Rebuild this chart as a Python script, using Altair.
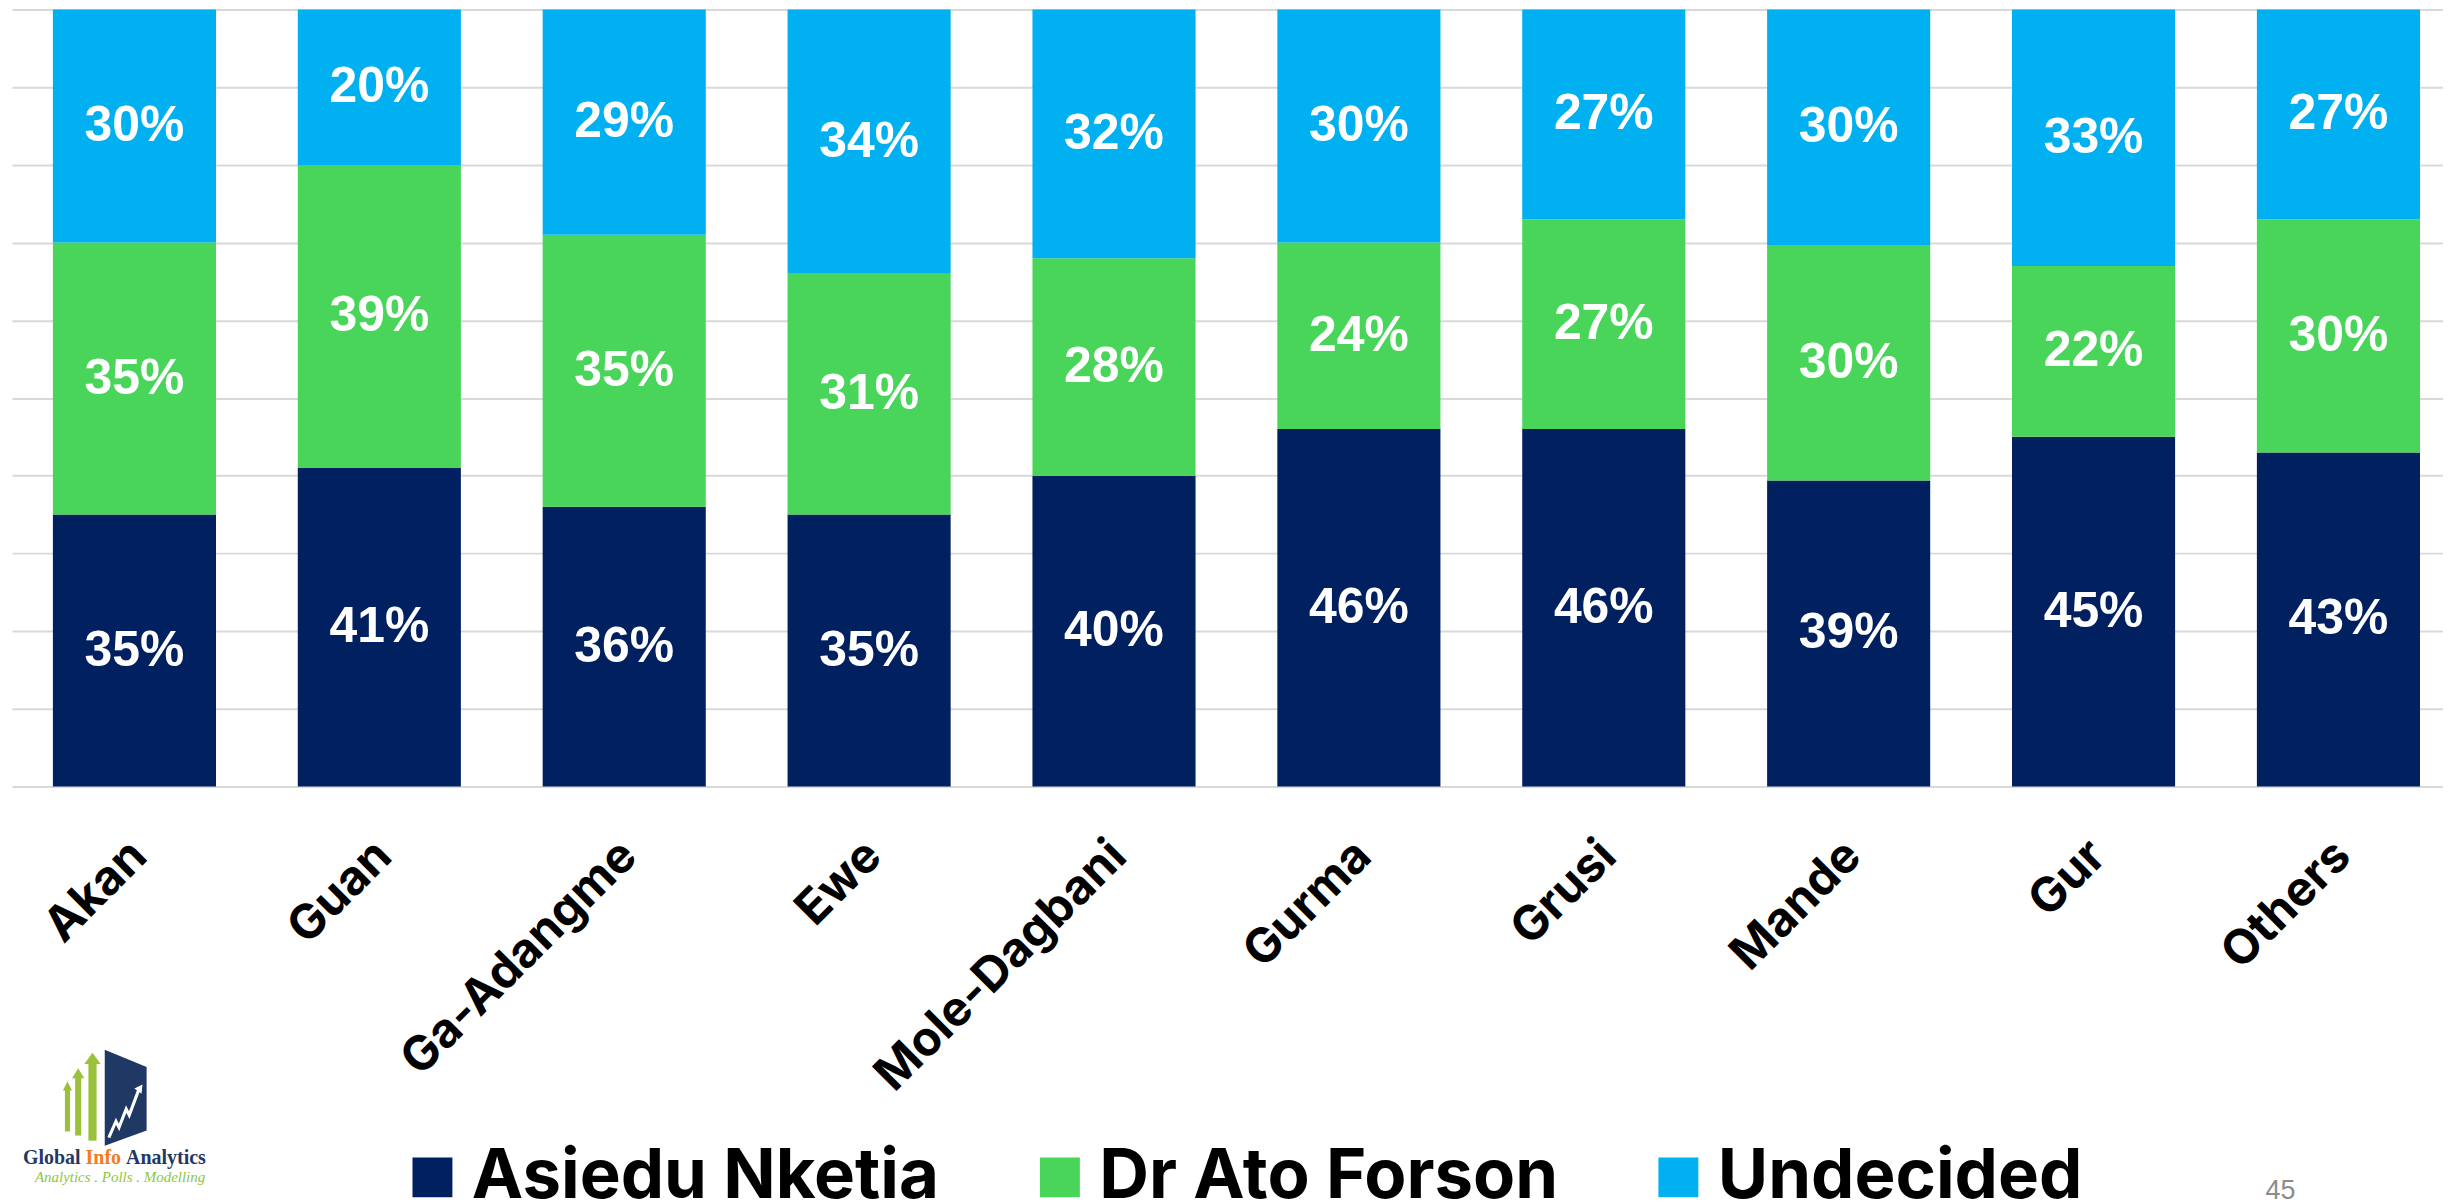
import altair as alt
import pandas as pd
import urllib.parse

groups = ["Akan", "Guan", "Ga-Adangme", "Ewe", "Mole-Dagbani", "Gurma", "Grusi", "Mande", "Gur", "Others"]
candidates = ["Asiedu Nketia", "Dr Ato Forson", "Undecided"]
colors = ["#002060", "#48D55A", "#00B0F0"]
asiedu = [35, 41, 36, 35, 40, 46, 46, 39, 45, 43]
forson = [35, 39, 35, 31, 28, 24, 27, 30, 22, 30]
undecided = [30, 20, 29, 34, 32, 30, 27, 30, 33, 27]
grid_values = [0, 0.1, 0.2, 0.3, 0.4, 0.5, 0.6, 0.7, 0.8, 0.9, 1.0]

rows = []
for i, g in enumerate(groups):
    for k, (c, vals) in enumerate(zip(candidates, [asiedu, forson, undecided])):
        rows.append({"group": g, "candidate": c, "value": vals[i], "ord": k})
df = pd.DataFrame(rows)

W, H = 2437, 779

x_enc = alt.X(
    "group:N", sort=groups, title=None,
    scale=alt.Scale(paddingInner=0.334, paddingOuter=0.1305, align=0.64),
    axis=alt.Axis(labelAngle=-45, labelAlign="right", labelBaseline="top",
                  labelFont="Inter", labelFontSize=48, labelFontWeight="bold",
                  labelColor="#000000", labelPadding=45, labelOffset=-12,
                  domain=False, ticks=False, labelLimit=0, grid=False),
)
y_scale = alt.Scale(domain=[0, 1])

base = alt.Chart(df)

bars = base.mark_bar(strokeWidth=0).encode(
    x=x_enc,
    y=alt.Y("value:Q", stack="normalize", scale=y_scale,
            axis=alt.Axis(values=grid_values, grid=True, gridColor="#d9d9d9", gridWidth=2,
                          labels=False, ticks=False, domain=False, title=None)),
    color=alt.Color("candidate:N", scale=alt.Scale(domain=candidates, range=colors),
                    legend=alt.Legend(title=None, orient="none", direction="horizontal",
                                      legendX=387, legendY=1136,
                                      symbolType="square", symbolSize=1600,
                                      symbolStrokeWidth=0, symbolOpacity=1,
                                      labelFont="Inter", labelFontSize=69,
                                      labelFontWeight="bold", labelColor="#000000",
                                      labelOffset=5, columnPadding=86,
                                      labelLimit=0, padding=0)),
    order=alt.Order("ord:Q"),
)

labels = base.transform_stack(
    stack="value", groupby=["group"], sort=[alt.SortField("ord", order="ascending")],
    offset="normalize", as_=["v0", "v1"],
).transform_calculate(
    mid="(datum.v0 + datum.v1) / 2", lab="datum.value + '%'"
).mark_text(font="Liberation Sans", fontSize=50, fontWeight="bold", color="white",
            baseline="middle", align="center").encode(
    x=alt.X("group:N", sort=groups),
    y=alt.Y("mid:Q", scale=y_scale),
    text="lab:N",
)

# decorations: page number and logo
page_df = pd.DataFrame({"t": ["45"]})
page_num = alt.Chart(page_df).mark_text(font="Liberation Sans", fontSize=27, color="#8c8c8c",
                                        align="center", baseline="alphabetic").encode(
    x=alt.value(2274), y=alt.value(1192), text="t:N")

logo_parts = pd.DataFrame({
    "t": ["Global", "Info", "Analytics"],
    "c": ["#1F3864", "#F47B20", "#1F3864"],
    "xp": [11, 73.8, 114.4],
})
logo_text = alt.Chart(logo_parts).mark_text(font="Liberation Serif", fontSize=20, fontWeight="bold",
                                            align="left", baseline="alphabetic").encode(
    x=alt.X("xp:Q", scale=None), y=alt.value(1157), text="t:N",
    color=alt.Color("c:N", scale=None))

tag_df = pd.DataFrame({"t": ["Analytics . Polls . Modelling"]})
tagline = alt.Chart(tag_df).mark_text(font="Liberation Serif", fontSize=15, fontStyle="italic",
                                      color="#8DC63F", align="left", baseline="alphabetic").encode(
    x=alt.value(23), y=alt.value(1175), text="t:N")

svg = (
    "<svg xmlns='http://www.w3.org/2000/svg' width='84' height='96' viewBox='0 0 84 96'>"
    "<polygon points='41,0 82,17 82,79 41,94' fill='#1F3864'/>"
    "<polyline points='45,86 52,70 55,76 62,58 65,64 74,40' fill='none' stroke='white' stroke-width='3'/>"
    "<polygon points='70,38 78,34 77,43' fill='white'/>"
    "<rect x='2' y='38' width='5' height='42' fill='#9BC13C'/>"
    "<polygon points='0,40 4.5,31 9,40' fill='#9BC13C'/>"
    "<rect x='12' y='26' width='6' height='58' fill='#9BC13C'/>"
    "<polygon points='9,28 15,18 21,28' fill='#9BC13C'/>"
    "<rect x='25' y='12' width='8' height='77' fill='#9BC13C'/>"
    "<polygon points='21,14 29,3 37,14' fill='#9BC13C'/>"
    "</svg>"
)
url = "data:image/svg+xml;charset=utf-8," + urllib.parse.quote(svg)
img_df = pd.DataFrame({"u": [url]})
logo_img = alt.Chart(img_df).mark_image(width=86, height=100, align="left", baseline="top").encode(
    x=alt.value(51), y=alt.value(1042), url="u:N")

chart = alt.layer(bars, labels, page_num, logo_text, tagline, logo_img).properties(
    width=W, height=H,
    autosize=alt.AutoSizeParams(type="none"),
    padding={"left": 4, "top": 0, "right": 0, "bottom": 415},
).configure_view(stroke=None)

chart.save("out.html", embed_options={"renderer": "svg", "actions": False})
